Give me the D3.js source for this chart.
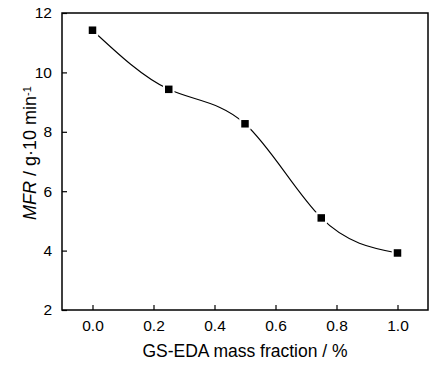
<!DOCTYPE html>
<html>
<head>
<meta charset="utf-8">
<script src="https://cdn.jsdelivr.net/npm/d3@7"></script>
<style>
  body { margin: 0; background: #fff; }
  text { font-family: "Liberation Sans", Arial, sans-serif; fill: #000; }
</style>
</head>
<body>
<div id="vis"></div>
<script>
// data
var massFraction = [0.0, 0.25, 0.5, 0.75, 1.0];
var mfrValues = [11.42, 9.43, 8.27, 5.1, 3.92];
var xTickValues = [0.0, 0.2, 0.4, 0.6, 0.8, 1.0];
var yTickValues = [2, 4, 6, 8, 10, 12];

var width = 441;
var height = 370;
var margin = { top: 13, left: 62, bottom: 60, right: 13 };

var svg = d3.select('#vis').append('svg')
  .attr('width', width)
  .attr('height', height);

var plotW = width - margin.left - margin.right;
var plotH = height - margin.top - margin.bottom;

var g = svg.append('g')
  .attr('transform', 'translate(' + margin.left + ',' + margin.top + ')');

var xScale = d3.scaleLinear()
  .domain([-0.1, 1.1])
  .range([0, plotW]);

var yScale = d3.scaleLinear()
  .domain([2, 12])
  .range([plotH, 0]);

// axes, ticks pointing inward
var xAxis = d3.axisBottom(xScale)
  .tickValues(xTickValues)
  .tickFormat(d3.format('.1f'))
  .tickSizeInner(-5)
  .tickSizeOuter(0)
  .tickPadding(10);

var yAxis = d3.axisLeft(yScale)
  .tickValues(yTickValues)
  .tickFormat(d3.format('d'))
  .tickSizeInner(-5)
  .tickSizeOuter(0)
  .tickPadding(10);

g.append('g')
  .attr('class', 'x axis')
  .attr('transform', 'translate(0,' + plotH + ')')
  .call(xAxis);

g.append('g')
  .attr('class', 'y axis')
  .call(yAxis);

g.selectAll('.axis .domain').remove();
g.selectAll('.axis line')
  .attr('stroke', '#000')
  .attr('stroke-width', 1.2);
g.selectAll('.axis text')
  .style('font-size', '15.5px')
  .style('font-family', '"Liberation Sans", Arial, sans-serif');

// frame
g.append('rect')
  .attr('x', 0)
  .attr('y', 0)
  .attr('width', plotW)
  .attr('height', plotH)
  .attr('fill', 'none')
  .attr('stroke', '#000')
  .attr('stroke-width', 1.5);

// smooth curve through the points
var points = massFraction.map(function(d, i) { return [d, mfrValues[i]]; });

var line = d3.line()
  .x(function(d) { return xScale(d[0]); })
  .y(function(d) { return yScale(d[1]); })
  .curve(d3.curveNatural);

g.append('path')
  .datum(points)
  .attr('d', line)
  .attr('fill', 'none')
  .attr('stroke', '#000')
  .attr('stroke-width', 1.1);

var sq = 7.5;
g.selectAll('.marker')
  .data(points)
  .enter().append('rect')
  .attr('class', 'marker')
  .attr('x', function(d) { return xScale(d[0]) - sq / 2; })
  .attr('y', function(d) { return yScale(d[1]) - sq / 2; })
  .attr('width', sq)
  .attr('height', sq)
  .attr('fill', '#000')
  .attr('stroke', '#fff')
  .attr('stroke-width', 4)
  .style('paint-order', 'stroke');

// axis titles
svg.append('text')
  .attr('x', margin.left + xScale(0.5))
  .attr('y', 357)
  .attr('text-anchor', 'middle')
  .style('font-size', '17.5px')
  .text('GS-EDA mass fraction / %');

var yLabel = svg.append('text')
  .attr('transform', 'translate(36,153) rotate(-90)')
  .attr('text-anchor', 'middle')
  .style('font-size', '18px');
yLabel.append('tspan').style('font-style', 'italic').text('MFR');
yLabel.append('tspan').text(' / g\u00b710 min');
yLabel.append('tspan')
  .attr('dy', '-0.5em')
  .style('font-size', '11px')
  .text('-1');
</script>
</body>
</html>
